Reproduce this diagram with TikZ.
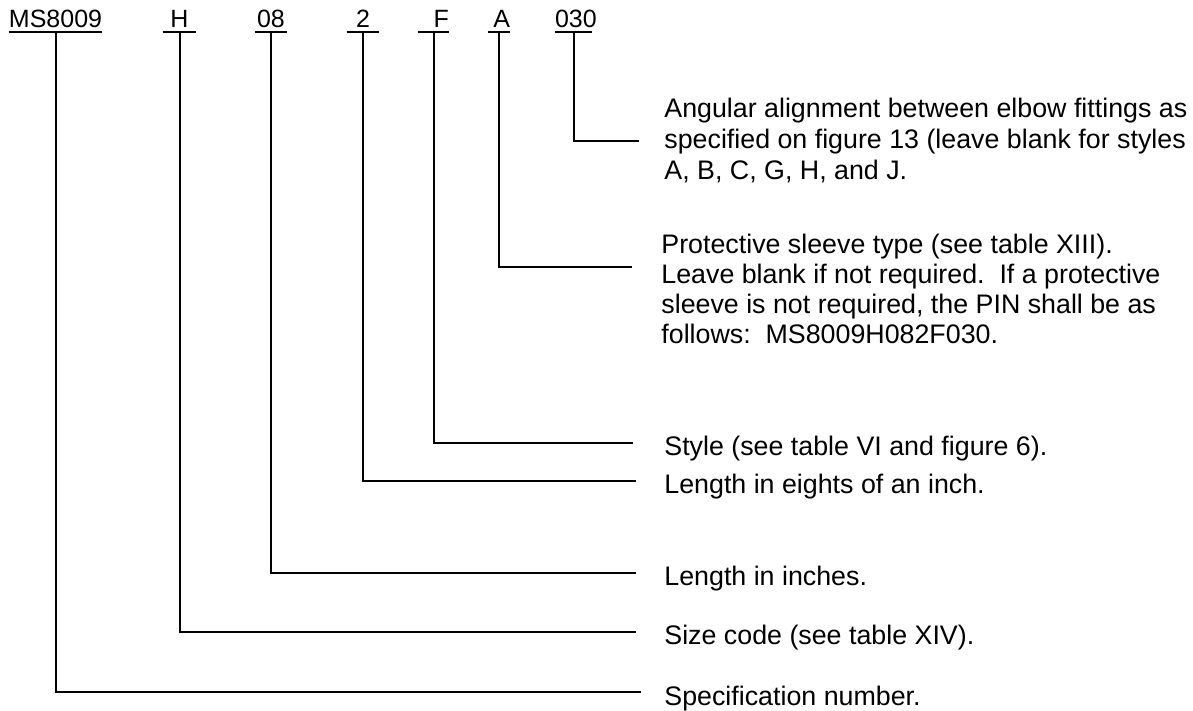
\documentclass[tikz,border=0pt]{standalone}
\usepackage{fontspec}
\setmainfont{Liberation Sans}
\begin{document}
\begin{tikzpicture}[x=0.5pt,y=-0.5pt,
  code/.style={anchor=south, inner sep=0pt, text depth=2pt, font=\fontsize{12.5}{15}\selectfont},
  desc/.style={anchor=north west, inner sep=0pt, align=left, font=\fontsize{13.4}{15}\selectfont},
  descwide/.style={desc, font=\fontsize{13.4}{15.4}\selectfont},
  conn/.style={draw=black, line width=1pt},
  uline/.style={draw=black, line width=1pt}]
\useasboundingbox (0,0) rectangle (1193,711);

% part-number fields
\node[code] (cMS)  at (55.5,32)  {\makebox[46.5pt][l]{MS8009}};
\node[code] (cH)   at (179.5,32) {\makebox[16.5pt]{H}};
\node[code] (c08)  at (271,32)   {\makebox[16pt]{08}};
\node[code] (c2)   at (363,32)   {\makebox[16pt]{2}};
\node[code] (cF)   at (433.5,32) {\makebox[15.5pt][r]{F}};
\node[code] (cA)   at (499,32)   {\makebox[11pt][r]{A}};
\node[code] (c030) at (573.5,32) {\makebox[18.5pt][l]{030}};
\foreach \n in {cMS,cH,c08,c2,cF,cA,c030}
  \draw[uline] (\n.south west) -- (\n.south east);

% descriptions
\node[descwide] (d030) at (664,96)  {\strut Angular alignment between elbow fittings as\\ specified on figure 13 (leave blank for styles\\ A, B, C, G, H, and J.};
\node[desc] (dA)   at (661,232) {\strut Protective sleeve type (see table XIII).\\ Leave blank if not required.\ \ If a protective\\ sleeve is not required, the PIN shall be as\\ follows:\ \ MS8009H082F030.};
\node[desc] (dF)   at (664,434) {\strut Style (see table VI and figure 6).};
\node[desc] (d2)   at (664,472) {\strut Length in eights of an inch.};
\node[desc] (d08)  at (664,564) {\strut Length in inches.};
\node[desc] (dH)   at (664,623) {\strut Size code (see table XIV).};
\node[desc] (dMS)  at (664,684) {\strut Specification number.};

% connector ends
\coordinate (e030) at (639,141);
\coordinate (eA)   at (632,267);
\coordinate (eF)   at (633,443);
\coordinate (e2)   at (636,481);
\coordinate (e08)  at (636,573);
\coordinate (eH)   at (636,632);
\coordinate (eMS)  at (641,692);

\draw[conn] (c030.south) |- (e030);
\draw[conn] (cA.south)   |- (eA);
\draw[conn] (cF.south)   |- (eF);
\draw[conn] (c2.south)   |- (e2);
\draw[conn] (c08.south)  |- (e08);
\draw[conn] (cH.south)   |- (eH);
\draw[conn] (cMS.south)  |- (eMS);
\end{tikzpicture}
\end{document}
